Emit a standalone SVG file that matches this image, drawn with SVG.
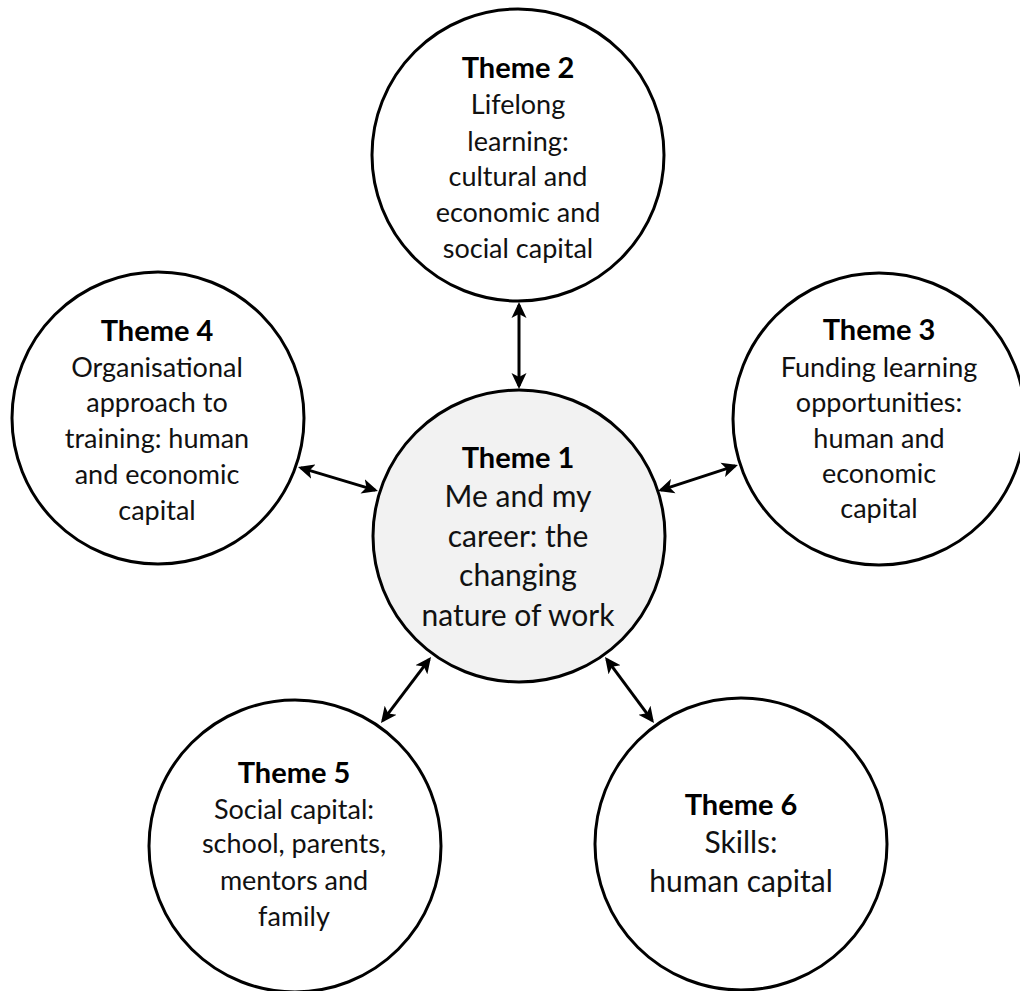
<svg xmlns="http://www.w3.org/2000/svg" width="1020" height="991" viewBox="0 0 1020 991">
  <style>
    .node { fill: #ffffff; stroke: #000000; stroke-width: 3; }
    .core { fill: #f2f2f2; }
    .title { font-family: Lato, "Open Sans", sans-serif; font-weight: 700; font-size: 29px; fill: #000; text-anchor: middle; }
    .body { font-family: Lato, "Open Sans", sans-serif; font-weight: 400; font-size: 27px; fill: #111; text-anchor: middle; }
    .big { font-size: 30px; }
    .link { stroke: #000; stroke-width: 3; fill: none; marker-start: url(#head); marker-end: url(#head); }
  </style>
  <defs>
    <!-- notched arrowhead, used on both ends of every link -->
    <marker id="head" markerUnits="userSpaceOnUse" viewBox="0 0 16 16" refX="13" refY="8" markerWidth="16" markerHeight="16" orient="auto-start-reverse">
      <path d="M0,0.5 L16,8 L0,15.5 L4,8 z" fill="#000"/>
    </marker>
  </defs>

  <g id="connectors">
    <line class="link" x1="519" y1="305" x2="519" y2="386"/>
    <line class="link" x1="300.9" y1="467.9" x2="375.1" y2="490.1"/>
    <line class="link" x1="660.9" y1="490.1" x2="735.1" y2="465.9"/>
    <line class="link" x1="429.2" y1="659.4" x2="382.8" y2="720.6"/>
    <line class="link" x1="606.8" y1="659.4" x2="652.2" y2="720.6"/>
  </g>

  <g id="theme2">
    <circle class="node" cx="518" cy="155" r="146"/>
    <text class="title" x="518" y="78">Theme 2</text>
    <text class="body" x="518" y="114">Lifelong</text>
    <text class="body" x="518" y="151">learning:</text>
    <text class="body" x="518" y="186">cultural and</text>
    <text class="body" x="518" y="222">economic and</text>
    <text class="body" x="518" y="258">social capital</text>
  </g>

  <g id="theme4">
    <circle class="node" cx="158" cy="418" r="146"/>
    <text class="title" x="157" y="341">Theme 4</text>
    <text class="body" x="157" y="377">Organisational</text>
    <text class="body" x="157" y="412">approach to</text>
    <text class="body" x="157" y="448">training: human</text>
    <text class="body" x="157" y="484">and economic</text>
    <text class="body" x="157" y="520">capital</text>
  </g>

  <g id="theme3">
    <circle class="node" cx="879" cy="419" r="146"/>
    <text class="title" x="879" y="340">Theme 3</text>
    <text class="body" x="879" y="377">Funding learning</text>
    <text class="body" x="879" y="412">opportunities:</text>
    <text class="body" x="879" y="448">human and</text>
    <text class="body" x="879" y="483">economic</text>
    <text class="body" x="879" y="518">capital</text>
  </g>

  <g id="theme1">
    <circle class="node core" cx="519" cy="536" r="146"/>
    <text class="title" x="518" y="468">Theme 1</text>
    <text class="body big" x="518" y="507">Me and my</text>
    <text class="body big" x="518" y="547">career: the</text>
    <text class="body big" x="518" y="586">changing</text>
    <text class="body big" x="518" y="626">nature of work</text>
  </g>

  <g id="theme5">
    <circle class="node" cx="295" cy="846" r="146"/>
    <text class="title" x="294" y="783">Theme 5</text>
    <text class="body" x="294" y="819">Social capital:</text>
    <text class="body" x="294" y="853">school, parents,</text>
    <text class="body" x="294" y="890">mentors and</text>
    <text class="body" x="294" y="926">family</text>
  </g>

  <g id="theme6">
    <circle class="node" cx="741" cy="844" r="146"/>
    <text class="title" x="741" y="815">Theme 6</text>
    <text class="body big" x="741" y="853">Skills:</text>
    <text class="body big" x="741" y="892">human capital</text>
  </g>
</svg>
